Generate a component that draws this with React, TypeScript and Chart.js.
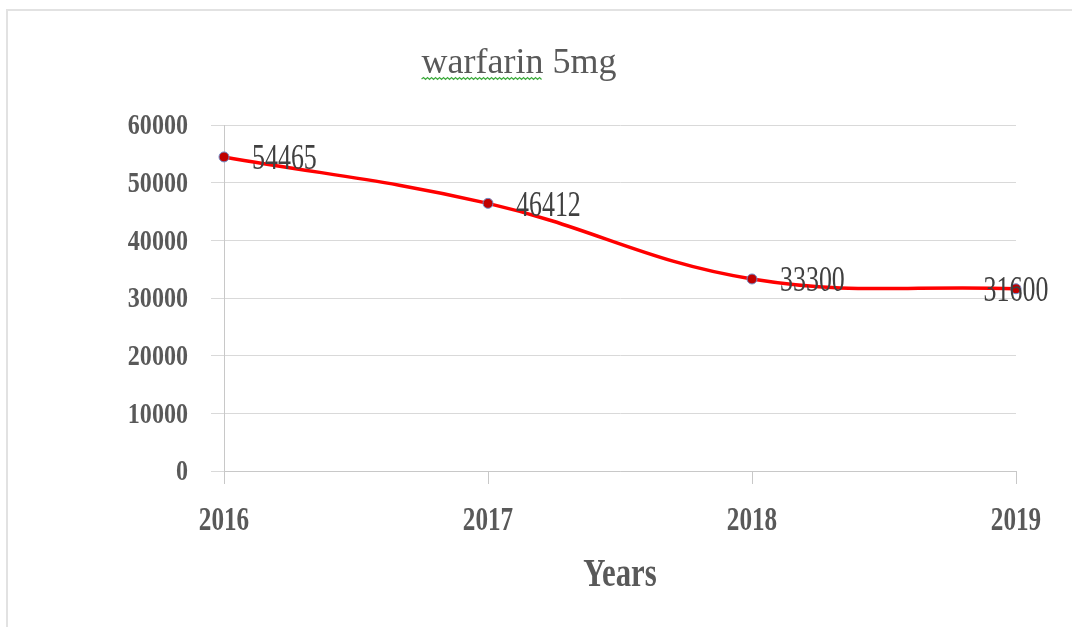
import React, { useEffect, useRef } from "react";
import { Chart, registerables } from "chart.js";

Chart.register(...registerables);

const YEARS = ["2016", "2017", "2018", "2019"];
const SALES = [54465, 46412, 33300, 31600];
const Y_MIN = 0;
const Y_MAX = 60000;
const Y_STEP = 10000;
const TITLE = "warfarin 5mg";
const SPELL_WORD = "warfarin";
const X_TITLE = "Years";

const SERIF = '"Liberation Serif", "Times New Roman", serif';
const TEXT_GRAY = "#595959";
const LABEL_GRAY = "#404040";

function drawScaled(
  ctx: CanvasRenderingContext2D,
  text: string,
  x: number,
  y: number,
  font: string,
  color: string,
  sx: number,
  align: CanvasTextAlign,
  baseline: CanvasTextBaseline
) {
  ctx.save();
  ctx.font = font;
  ctx.fillStyle = color;
  ctx.textAlign = align;
  ctx.textBaseline = baseline;
  ctx.translate(x, y);
  ctx.scale(sx, 1);
  ctx.fillText(text, 0, 0);
  ctx.restore();
}

const textPlugin = {
  id: "textPlugin",
  beforeDraw(chart: any) {
    const ctx: CanvasRenderingContext2D = chart.ctx;
    ctx.save();
    ctx.fillStyle = "#ffffff";
    ctx.fillRect(0, 0, chart.width, chart.height);
    // frame (top and left edges)
    ctx.strokeStyle = "#E2E2E2";
    ctx.lineWidth = 2;
    ctx.beginPath();
    ctx.moveTo(chart.width, 10);
    ctx.lineTo(7, 10);
    ctx.lineTo(7, chart.height);
    ctx.stroke();
    ctx.restore();
  },
  afterDraw(chart: any) {
    const ctx: CanvasRenderingContext2D = chart.ctx;
    const area = chart.chartArea;
    const ys = chart.scales.y;
    const xs = chart.scales.x;

    // title
    const titleFont = `36px ${SERIF}`;
    const titleCx = 519;
    const titleBase = 73;
    drawScaled(ctx, TITLE, titleCx, titleBase, titleFont, TEXT_GRAY, 1, "center", "alphabetic");
    ctx.save();
    ctx.font = titleFont;
    const full = ctx.measureText(TITLE).width;
    const word = ctx.measureText(SPELL_WORD).width;
    const sx0 = titleCx - full / 2;
    ctx.strokeStyle = "#3DAA3D";
    ctx.lineWidth = 1.2;
    ctx.beginPath();
    let up = true;
    ctx.moveTo(sx0, titleBase + 6);
    for (let x = sx0 + 2; x <= sx0 + word; x += 2) {
      ctx.lineTo(x, titleBase + (up ? 4.5 : 6.5));
      up = !up;
    }
    ctx.stroke();
    ctx.restore();

    // y tick labels
    ys.ticks.forEach((t: any) => {
      const y = ys.getPixelForValue(t.value);
      drawScaled(ctx, String(t.value), area.left - 36, y + 2, `bold 29px ${SERIF}`, TEXT_GRAY, 0.83, "right", "middle");
    });

    // x tick labels
    YEARS.forEach((lab, i) => {
      const x = xs.getPixelForValue(i);
      drawScaled(ctx, lab, x, area.bottom + 50, `bold 34px ${SERIF}`, TEXT_GRAY, 0.74, "center", "middle");
    });

    // x axis title
    drawScaled(ctx, X_TITLE, (area.left + area.right) / 2, 586, `bold 40px ${SERIF}`, TEXT_GRAY, 0.77, "center", "alphabetic");

    // data labels
    const meta = chart.getDatasetMeta(0);
    meta.data.forEach((pt: any, i: number) => {
      const last = i === SALES.length - 1;
      drawScaled(
        ctx,
        String(SALES[i]),
        last ? pt.x : pt.x + 28,
        pt.y + 3,
        `36px ${SERIF}`,
        LABEL_GRAY,
        0.72,
        last ? "center" : "left",
        "middle"
      );
    });
  },
};

export default function App() {
  const ref = useRef<HTMLCanvasElement | null>(null);

  useEffect(() => {
    if (!ref.current) return;
    const chart = new Chart(ref.current, {
      type: "line",
      data: {
        labels: YEARS,
        datasets: [
          {
            data: SALES,
            borderColor: "#FF0000",
            borderWidth: 3.5,
            tension: 0.4,
            pointRadius: 5,
            pointBackgroundColor: "#C00000",
            pointBorderColor: "#6F8FCB",
            pointBorderWidth: 1,
            clip: false as any,
          },
        ],
      },
      options: {
        animation: false,
        responsive: false,
        maintainAspectRatio: false,
        layout: { padding: { top: 125, right: 56, left: 0, bottom: 0 } },
        plugins: {
          legend: { display: false },
          title: { display: false },
          tooltip: { enabled: false },
        },
        scales: {
          x: {
            type: "category",
            offset: false,
            grid: {
              drawOnChartArea: false,
              drawTicks: true,
              tickLength: 13,
              color: "#C8C8C8",
            },
            border: { display: true, color: "#C8C8C8", width: 1 },
            ticks: { color: "rgba(0,0,0,0)", font: { size: 12 } },
            afterFit: (s: any) => {
              s.height = 156;
            },
          },
          y: {
            min: Y_MIN,
            max: Y_MAX,
            ticks: { stepSize: Y_STEP, color: "rgba(0,0,0,0)", font: { size: 12 } },
            grid: { color: "#D9D9D9", tickLength: 13, drawTicks: true },
            border: { display: true, color: "#C8C8C8", width: 1 },
            afterFit: (s: any) => {
              s.width = 224;
            },
          },
        },
      },
      plugins: [textPlugin],
    });
    return () => chart.destroy();
  }, []);

  return (
    <div style={{ position: "fixed", left: 0, top: 0, width: 1072, height: 627 }}>
      <canvas ref={ref} width={1072} height={627} style={{ display: "block" }} />
    </div>
  );
}
